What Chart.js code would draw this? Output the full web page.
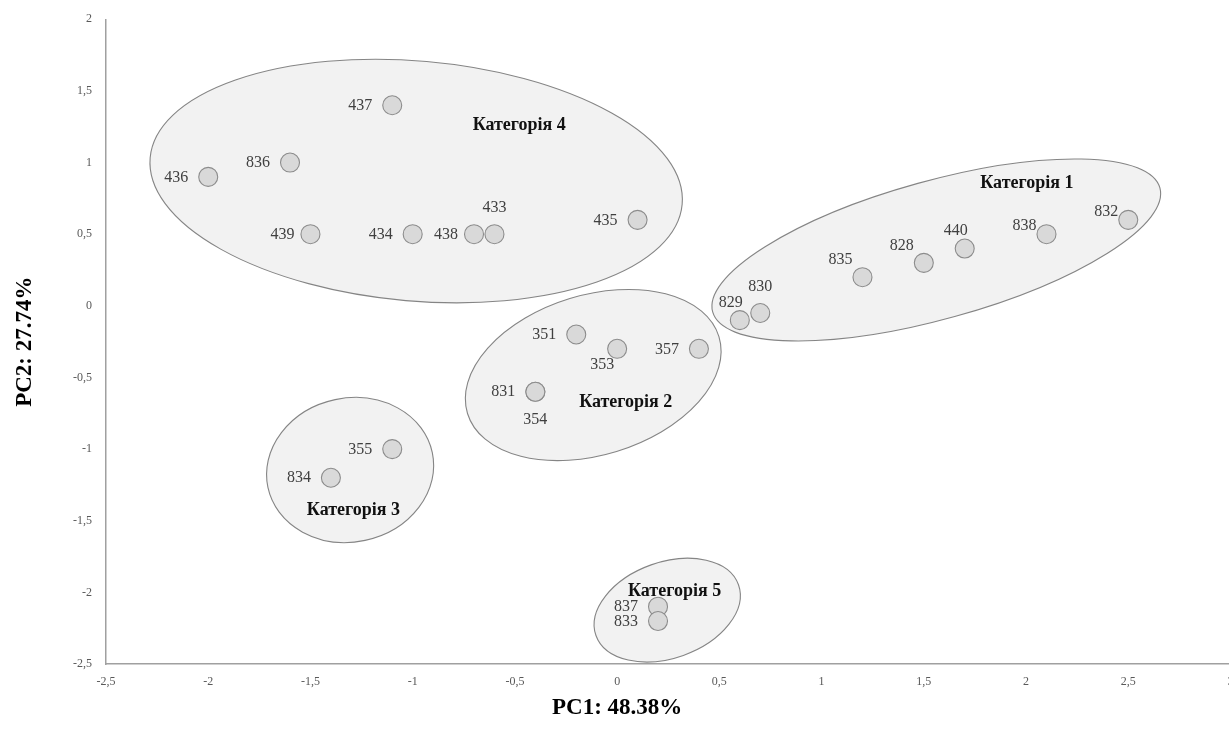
<!DOCTYPE html>
<html><head><meta charset="utf-8">
<script src="https://cdn.jsdelivr.net/npm/chart.js@4/dist/chart.umd.min.js"></script>
<style>
html,body{margin:0;padding:0;background:#fff;overflow:hidden;width:1229px;height:736px}
#wrap{position:absolute;left:0;top:0;width:1232px;height:736px}
</style></head>
<body><div id="wrap"><canvas id="c"></canvas></div>
<script>
// ---- data ----
const categories = ['Категорія 1','Категорія 2','Категорія 3','Категорія 4','Категорія 5'];
const sampleLabels = ['437','836','436','439','434','438','433','435',
                      '829','830','835','828','440','838','832',
                      '351','353','357','831','354',
                      '355','834',
                      '837','833'];
const pc1 = [-1.1,-1.6,-2.0,-1.5,-1.0,-0.7,-0.6,0.1,
             0.6,0.7,1.2,1.5,1.7,2.1,2.5,
             -0.2,0.0,0.4,-0.4,-0.4,
             -1.1,-1.4,
             0.2,0.2];
const pc2 = [1.4,1.0,0.9,0.5,0.5,0.5,0.5,0.6,
             -0.1,-0.05,0.2,0.3,0.4,0.5,0.6,
             -0.2,-0.3,-0.3,-0.6,-0.6,
             -1.0,-1.2,
             -2.1,-2.2];
const sampleGroup = [3,3,3,3,3,3,3,3, 0,0,0,0,0,0,0, 1,1,1,1,1, 2,2, 4,4];
const xTickValues = [-2.5,-2,-1.5,-1,-0.5,0,0.5,1,1.5,2,2.5,3];
const yTickValues = [-2.5,-2,-1.5,-1,-0.5,0,0.5,1,1.5,2];
const xAxisTitle = 'PC1: 48.38%';
const yAxisTitle = 'PC2: 27.74%';

// ---- annotation layout (not data) ----
const labelAnchor = ['w','w','w','wc','w','wc','n','w',
                     'nnw','n','nw','nw','nnw','wnw','wnw',
                     'w','sw','w','w','s',
                     'w','w',
                     'w','w'];
const anchorOffsets = {w:[-32,0], wc:[-28,0], n:[0,-27], nw:[-22,-18], nnw:[-9,-18], wnw:[-22,-9], s:[0,28], sw:[-15,15.5]};
// ellipse per category: centre in data units, semi-axes in x-axis units, rotation in degrees
const groupEllipses = [
  {cx:1.561, cy:0.390, a:1.135, b:0.338, rot:-15.5},
  {cx:-0.117, cy:-0.483, a:0.643, b:0.391, rot:-17},
  {cx:-1.306, cy:-1.146, a:0.411, b:0.352, rot:-12},
  {cx:-0.983, cy:0.871, a:1.306, b:0.587, rot:5},
  {cx:0.245, cy:-2.124, a:0.370, b:0.235, rot:-19.6}
];
const groupCaptionAt = [[2.004,0.859],[0.042,-0.669],[-1.290,-1.421],[-0.479,1.262],[0.281,-1.989]];

const SERIF = "'Liberation Serif','Times New Roman',serif";

const points = pc1.map((x,i)=>({x:x, y:pc2[i]}));

const annotate = {
  id:'annotate',
  beforeDatasetsDraw(chart){
    const {ctx, scales:{x:xs, y:ys}} = chart;
    const ux = xs.getPixelForValue(1) - xs.getPixelForValue(0);
    ctx.save();
    groupEllipses.forEach(e=>{
      ctx.beginPath();
      ctx.ellipse(xs.getPixelForValue(e.cx), ys.getPixelForValue(e.cy), e.a*ux, e.b*ux, e.rot*Math.PI/180, 0, Math.PI*2);
      ctx.fillStyle = '#f2f2f2';
      ctx.fill();
      ctx.strokeStyle = '#858585';
      ctx.lineWidth = 1.1;
      ctx.stroke();
    });
    ctx.restore();
  },
  afterDatasetsDraw(chart){
    const {ctx, scales:{x:xs, y:ys}} = chart;
    ctx.save();
    ctx.textAlign = 'center';
    ctx.textBaseline = 'middle';
    ctx.fillStyle = '#404040';
    ctx.font = '16px ' + SERIF;
    sampleLabels.forEach((t,i)=>{
      const off = anchorOffsets[labelAnchor[i]];
      ctx.fillText(t, xs.getPixelForValue(pc1[i]) + off[0], ys.getPixelForValue(pc2[i]) + off[1] + 0.5);
    });
    ctx.fillStyle = '#111';
    ctx.font = 'bold 18px ' + SERIF;
    categories.forEach((c,i)=>{
      const p = groupCaptionAt[i];
      ctx.fillText(c, xs.getPixelForValue(p[0]), ys.getPixelForValue(p[1]) + 0.5);
    });
    // axis titles
    ctx.fillStyle = '#000';
    ctx.font = 'bold 23px ' + SERIF;
    ctx.fillText(xAxisTitle, xs.getPixelForValue(0), 708);
    ctx.translate(25, (ys.top + ys.bottom)/2);
    ctx.rotate(-Math.PI/2);
    ctx.fillText(yAxisTitle, 0, 0);
    ctx.restore();
  }
};

const fmt = v => String(v).replace('.', ',');

new Chart(document.getElementById('c'), {
  type:'scatter',
  data:{datasets:[{
    data: points,
    pointRadius: 9.5,
    pointHoverRadius: 9.5,
    pointBackgroundColor: '#d9d9d9',
    pointBorderColor: '#8c8c8c',
    pointBorderWidth: 1.1
  }]},
  options:{
    responsive:true,
    maintainAspectRatio:false,
    animation:false,
    events:[],
    layout:{autoPadding:false, padding:{left:0, top:19.3, right:1.5, bottom:0}},
    plugins:{legend:{display:false}, tooltip:{enabled:false}},
    scales:{
      x:{
        type:'linear', min:-2.5, max:3,
        afterBuildTicks(s){ s.ticks = xTickValues.map(v=>({value:v})); },
        afterFit(s){ s.height = 72; s.paddingLeft = 0; s.paddingRight = 0; },
        grid:{display:false, drawTicks:false},
        border:{display:true, color:'#a0a0a0', width:1.5},
        ticks:{padding:11, color:'#595959', font:{family:SERIF, size:12}, callback:v=>fmt(v), maxRotation:0, autoSkip:false}
      },
      y:{
        type:'linear', min:-2.5, max:2,
        afterBuildTicks(s){ s.ticks = yTickValues.map(v=>({value:v})); },
        afterFit(s){ s.width = 106; s.paddingTop = 0; s.paddingBottom = 0; },
        grid:{display:false, drawTicks:false},
        border:{display:true, color:'#a0a0a0', width:1.5},
        ticks:{padding:14, color:'#595959', font:{family:SERIF, size:12}, callback:v=>fmt(v), autoSkip:false}
      }
    }
  },
  plugins:[annotate]
});
</script>
</body></html>
